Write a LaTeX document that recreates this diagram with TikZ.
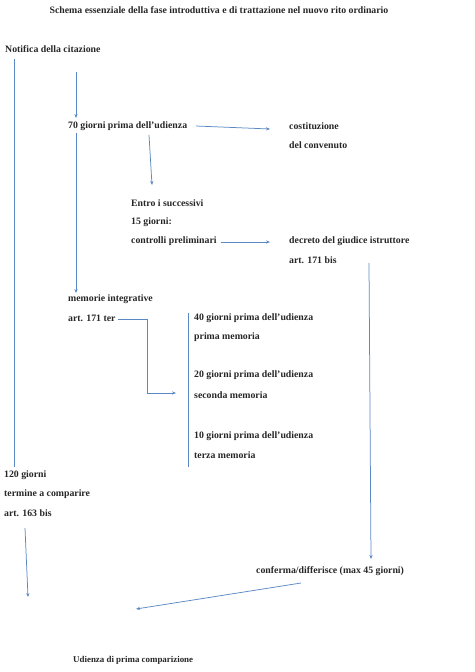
\documentclass[tikz,border=0pt]{standalone}
\usepackage{fontspec}
\setmainfont{Liberation Serif}
\usetikzlibrary{arrows.meta,calc}
\definecolor{lineblue}{RGB}{91,137,196}
\tikzset{
  txt/.style={anchor=west,inner sep=0pt,font=\fontsize{9.8}{11}\selectfont\bfseries,text=black!85},
  conn/.style={draw=lineblue,line width=0.75pt},
  arr/.style={conn,-{Stealth[length=4pt,width=3.2pt]}},
}
\begin{document}
\begin{tikzpicture}[x=1pt,y=-1pt]
\useasboundingbox (0,0) rectangle (474,672);
% texts
\node[txt,anchor=center] (title) at (219,10) {Schema essenziale della fase introduttiva e di trattazione nel nuovo rito ordinario};
\node[txt] (notifica) at (5,49) {Notifica della citazione};
\node[txt] (g70) at (68,126) {70 giorni prima dell’udienza};
\node[txt] (cost1) at (289,126) {costituzione};
\node[txt] (cost2) at (289,145) {del convenuto};
\node[txt] (entro1) at (131,203) {Entro i successivi};
\node[txt] (entro2) at (131,222) {15 giorni:};
\node[txt] (entro3) at (131,241) {controlli preliminari};
\node[txt] (decreto) at (289,241) {decreto del giudice istruttore};
\node[txt] (bis171) at (289,260) {art. 171 bis};
\node[txt] (memint) at (68,299) {memorie integrative};
\node[txt] (ter171) at (68,318) {art. 171 ter};
\node[txt] (g40) at (194,318) {40 giorni prima dell’udienza};
\node[txt] (prima) at (194,337) {prima memoria};
\node[txt] (g20) at (194,375) {20 giorni prima dell’udienza};
\node[txt] (seconda) at (194,395) {seconda memoria};
\node[txt] (g10) at (194,436) {10 giorni prima dell’udienza};
\node[txt] (terza) at (194,455) {terza memoria};
\node[txt] (g120) at (4,475) {120 giorni};
\node[txt] (termine) at (4,494) {termine a comparire};
\node[txt] (bis163) at (4,513) {art. 163 bis};
\node[txt] (conferma) at (256,571) {conferma/differisce (max 45 giorni)};
\node[txt,font=\fontsize{8.9}{10}\selectfont\bfseries] (udienza) at (73,660) {Udienza di prima comparizione};
% free ends
\coordinate (a1s) at (14,59);
\coordinate (a1e) at (14,467);
\coordinate (a2s) at (76,72);
\coordinate (a2e) at (76,118);
\coordinate (a3s) at (76,133);
\coordinate (a3e) at (76,293);
\coordinate (a4s) at (196,126);
\coordinate (a4e) at (270,129);
\coordinate (a5s) at (149,135);
\coordinate (a5e) at (152,185);
\coordinate (a6s) at (221,242);
\coordinate (a6e) at (270,242);
\coordinate (a7s) at (369,263);
\coordinate (a7e) at (371,559);
\coordinate (a8s) at (301,583);
\coordinate (a8e) at (136,609);
\coordinate (a9s) at (118,319);
\coordinate (a9e) at (176,393);
\coordinate (brt) at (188,313);
\coordinate (brb) at (188,467);
\coordinate (a11s) at (25,528);
\coordinate (a11e) at (28,597);
% connectors
\draw[conn] (a1s) -- (a1e);
\draw[arr] (a2s) -- (a2e);
\draw[arr] (a3s) -- (a3e);
\draw[arr] (a4s) -- (a4e);
\draw[arr] (a5s) -- (a5e);
\draw[arr] (a6s) -- (a6e);
\draw[arr] (a7s) -- (a7e);
\draw[arr] (a8s) -- (a8e);
\draw[arr] (a9s) -- (147,319) -- (147,393) -- (a9e);
\draw[conn,line width=0.6pt] (brt) -- (brb);
\draw[arr] (a11s) -- (a11e);
\end{tikzpicture}
\end{document}
